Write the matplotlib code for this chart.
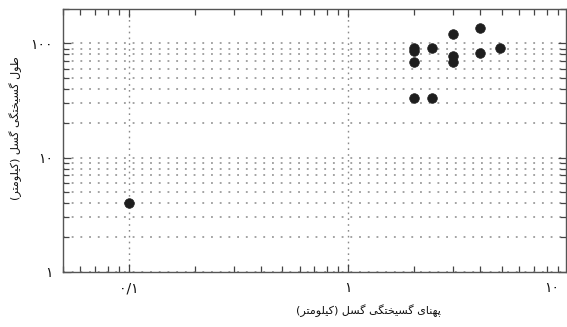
import matplotlib
matplotlib.use("Agg")
import matplotlib.pyplot as plt
from matplotlib.ticker import LogLocator, NullFormatter
import matplotlib.transforms as mtransforms

# rupture width / rupture length (km)
width_km = [0.1, 2, 2, 2, 2, 2.4, 2.4, 3, 3, 3, 4, 4, 4.9]
length_km = [4.0, 91, 85, 68, 33, 92, 33, 120, 77, 69, 137, 83, 92]

xlabel_fa = "پهنای گسیختگی گسل (کیلومتر)"
ylabel_fa = "طول گسیختگی گسل (کیلومتر)"
xtick_vals = [0.1, 1]
xtick_fa = ["۰/۱", "۱"]
xtick_last = "۱۰"
ytick_vals = [1, 10, 100]
ytick_fa = ["۱", "۱۰", "۱۰۰"]

# no arabic shaping in matplotlib -> choose presentation forms by hand
# (isolated, final, initial, medial); 2 forms = letter joins only to the right
FORMS = {
    "ا": ("\uFE8D", "\uFE8E"),
    "ر": ("\uFEAD", "\uFEAE"),
    "و": ("\uFEED", "\uFEEE"),
    "پ": ("\uFB56", "\uFB57", "\uFB58", "\uFB59"),
    "ت": ("\uFE95", "\uFE96", "\uFE97", "\uFE98"),
    "خ": ("\uFEA5", "\uFEA6", "\uFEA7", "\uFEA8"),
    "س": ("\uFEB1", "\uFEB2", "\uFEB3", "\uFEB4"),
    "ط": ("\uFEC1", "\uFEC2", "\uFEC3", "\uFEC4"),
    "ک": ("\uFB8E", "\uFB8F", "\uFB90", "\uFB91"),
    "گ": ("\uFB92", "\uFB93", "\uFB94", "\uFB95"),
    "ل": ("\uFEDD", "\uFEDE", "\uFEDF", "\uFEE0"),
    "م": ("\uFEE1", "\uFEE2", "\uFEE3", "\uFEE4"),
    "ن": ("\uFEE5", "\uFEE6", "\uFEE7", "\uFEE8"),
    "ه": ("\uFEE9", "\uFEEA", "\uFEEB", "\uFEEC"),
    "ی": ("\uFBFC", "\uFBFD", "\uFBFE", "\uFBFF"),
}


def shape(s):
    out = []
    for i, c in enumerate(s):
        if c not in FORMS:
            out.append(c)
            continue
        f = FORMS[c]
        prev = s[i - 1] if i > 0 else ""
        nxt = s[i + 1] if i + 1 < len(s) else ""
        jp = prev in FORMS and len(FORMS[prev]) == 4
        jn = len(f) == 4 and nxt in FORMS
        if jp and jn:
            out.append(f[3])
        elif jp:
            out.append(f[1])
        elif jn:
            out.append(f[2])
        else:
            out.append(f[0])
    vis = "".join(out)[::-1]
    return vis.translate(str.maketrans("()", ")("))


plt.rcParams["font.family"] = ["DejaVu Sans"]

fig = plt.figure(figsize=(5.67, 3.27), dpi=100)
ax = fig.add_axes([0.1106, 0.169, 0.8874, 0.8035])

ax.scatter(width_km, length_km, s=48, color="#1e1e1e", edgecolors="#1e1e1e",
           linewidths=0.5, zorder=3)

ax.set_xscale("log")
ax.set_yscale("log")
ax.set_xlim(0.05, 9.8)
ax.set_ylim(1, 200)

ax.set_xticks(xtick_vals, xtick_fa)
ax.set_yticks(ytick_vals, ytick_fa)
ax.xaxis.set_minor_locator(LogLocator(base=10, subs=range(2, 10)))
ax.yaxis.set_minor_locator(LogLocator(base=10, subs=range(2, 10)))
ax.xaxis.set_minor_formatter(NullFormatter())
ax.yaxis.set_minor_formatter(NullFormatter())

ax.tick_params(which="both", direction="in", top=True, right=True,
               color="#444444", width=0.9, labelsize=10, labelcolor="#111111")
ax.tick_params(which="major", length=6)
ax.tick_params(which="minor", length=4)
ax.tick_params(axis="x", pad=7)
ax.tick_params(axis="y", pad=7)

ax.grid(axis="y", which="both", linestyle=(0, (1.2, 4.5)), linewidth=1.1,
        color="#8a8a8a")
ax.grid(axis="x", which="major", linestyle=(0, (1.2, 3)), linewidth=1.0,
        color="#8a8a8a")

for sp in ax.spines.values():
    sp.set_color("#555555")
    sp.set_linewidth(1.0)

trans = mtransforms.blended_transform_factory(ax.transData, ax.transAxes)
ax.text(8.4, -0.036, xtick_last, transform=trans, ha="center", va="top",
        fontsize=10, color="#111111")

ax.set_xlabel(shape(xlabel_fa), fontsize=8, color="#111111")
ax.xaxis.set_label_coords(0.607, -0.125)
ax.set_ylabel(shape(ylabel_fa), fontsize=8, color="#111111")
ax.yaxis.set_label_coords(-0.081, 0.547)

fig.savefig("out.png", dpi=100)
